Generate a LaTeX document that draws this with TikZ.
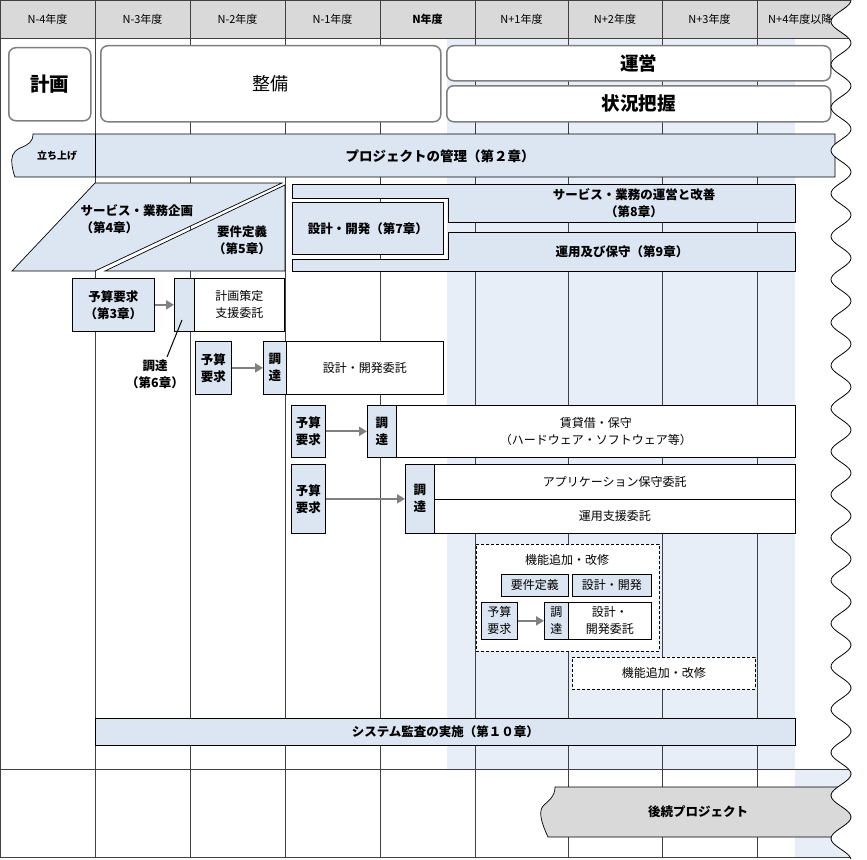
\documentclass[tikz,border=0pt]{standalone}
\usepackage{fontspec}
\setmainfont{Noto Sans CJK JP}
\usetikzlibrary{arrows.meta}
\definecolor{boxblue}{HTML}{DCE6F2}
\definecolor{bgblue}{HTML}{E8EEF7}
\definecolor{hdrgray}{HTML}{D9D9D9}
\definecolor{gridc}{HTML}{404040}
\definecolor{rgray}{HTML}{7F7F7F}
\definecolor{agray}{HTML}{808080}
\begin{document}
\begin{tikzpicture}[x=1pt,y=-1pt,
  gridline/.style={draw=gridc,line width=0.8pt},
  topbox/.style={draw=rgray,line width=1.5pt,rounded corners=7pt,fill=white,anchor=north west,inner sep=0pt},
  bbox/.style={draw=black,line width=0.7pt,fill=boxblue,anchor=north west,inner sep=0pt,align=center},
  wbox/.style={draw=black,line width=0.7pt,fill=white,anchor=north west,inner sep=0pt,align=center},
  dbox/.style={draw=black,line width=0.8pt,dash pattern=on 3pt off 2pt,fill=white,anchor=north west,inner sep=0pt},
  shp/.style={draw=black,line width=0.7pt,fill=boxblue},
  arr/.style={draw=agray,line width=2pt,-{Triangle[length=8pt,width=9pt]}},
  tr/.style={font=\fontsize{12}{17}\selectfont,align=center},
  tb/.style={font=\bfseries\fontsize{12.5}{17}\selectfont,align=center},
  hd/.style={font=\fontsize{11}{13}\selectfont},
]
\useasboundingbox (0,0) rectangle (867,859);
\fill[white] (0,0) rectangle (867,859);
% backgrounds
\fill[hdrgray] (0,0) rectangle (867,38);
\fill[bgblue] (447,38) rectangle (795,769);
\fill[bgblue] (795,769) rectangle (867,857);
% grid
\foreach \gx in {95,190,285,380,475,568,662,757}
  \draw[gridline] (\gx,0) -- (\gx,857);
\draw[gridline] (0,0.5) -- (867,0.5);
\draw[gridline] (0,38) -- (867,38);
\draw[gridline] (0,769) -- (867,769);
\draw[gridline] (0,857) -- (867,857);
\draw[gridline] (0.6,0) -- (0.6,857);
% header texts
\node[hd] (h1) at (47.5,19) {N-4年度};
\node[hd] (h2) at (142.5,19) {N-3年度};
\node[hd] (h3) at (237.5,19) {N-2年度};
\node[hd] (h4) at (332.5,19) {N-1年度};
\node[hd,font=\bfseries\fontsize{11}{13}\selectfont] (h5) at (427.5,19) {N年度};
\node[hd] (h6) at (521.5,19) {N+1年度};
\node[hd] (h7) at (615,19) {N+2年度};
\node[hd] (h8) at (709.5,19) {N+3年度};
\node[hd,anchor=west,inner sep=0pt] (h9) at (768,19) {N+4年度以降};
% top boxes
\node[topbox,minimum width=82,minimum height=73,font=\bfseries\fontsize{19.5}{22}\selectfont] (keikaku) at (8,47) {計画};
\node[topbox,minimum width=340,minimum height=76,font=\fontsize{18}{22}\selectfont] (seibi) at (100,45) {整備};
\node[topbox,minimum width=384,minimum height=35,font=\bfseries\fontsize{18.5}{22}\selectfont] (unei) at (446,45) {運営};
\node[topbox,minimum width=384,minimum height=36,font=\bfseries\fontsize{18.5}{22}\selectfont] (jokyo) at (446,85) {状況把握};
% project bar
\path[shp] (835,134) -- (33,134) .. controls (33,142) and (28,145) .. (20,148)
  .. controls (12,152) and (11,158) .. (12,165) .. controls (13,171) and (14,175) .. (15,177)
  -- (835,177) -- cycle;
\draw[line width=0.7pt] (95,134) -- (95,177);
\node[font=\bfseries\fontsize{10}{11}\selectfont] (tachiage) at (57,156) {立ち上げ};
\node[font=\bfseries\fontsize{13.5}{17}\selectfont] (pm) at (440,156) {プロジェクトの管理（第２章）};
% planning shapes
\path[shp] (95,183) -- (282,183) -- (95,271) -- (12,271) -- cycle;
\path[shp] (285,185) -- (285,271) -- (105,271) -- cycle;
\node[tb,align=left,anchor=west] (svc) at (77,219) {サービス・業務企画\\（第4章）};
\node[tb] (yoken) at (242,240) {要件定義\\（第5章）};
% operation shapes
\path[shp] (292,184) -- (795,184) -- (795,222) -- (448,222) -- (448,198) -- (292,198) -- cycle;
\path[shp] (448,232) -- (795,232) -- (795,271) -- (292,271) -- (292,259) -- (448,259) -- cycle;
\node[bbox,tb,minimum width=151,minimum height=52] (dev7) at (292,202) {設計・開発（第7章）};
\node[tb] (svc8) at (634,203) {サービス・業務の運営と改善\\（第8章）};
\node[tb] (ops9) at (622,252) {運用及び保守（第9章）};
% row 1
\node[bbox,tb,minimum width=82,minimum height=53] (yb1) at (72,278) {予算要求\\（第3章）};
\node[bbox,minimum width=20,minimum height=53] (cb1) at (174,278) {};
\node[wbox,tr,minimum width=90,minimum height=53] (kb1) at (194,278) {計画策定\\支援委託};
\draw[arr] (yb1.east) -- (cb1.west);
\node[tb] (lab6) at (155,374) {調達\\（第6章）};
\coordinate (c6a) at (182,320);
\coordinate (c6b) at (167,357);
\draw[line width=1pt] (c6a) -- (c6b);
% row 2
\node[bbox,tb,minimum width=36,minimum height=53] (yb2) at (195,341) {予算\\要求};
\node[bbox,tb,minimum width=23,minimum height=53] (cb2) at (263,341) {調\\達};
\node[wbox,tr,minimum width=157,minimum height=53] (kb2) at (286,341) {設計・開発委託};
\draw[arr] (yb2.east) -- (cb2.west);
% row 3
\node[bbox,tb,minimum width=34,minimum height=52] (yb3) at (291,405) {予算\\要求};
\node[bbox,tb,minimum width=29,minimum height=52] (cb3) at (367,405) {調\\達};
\node[wbox,tr,minimum width=399,minimum height=52] (kb3) at (396,405) {賃貸借・保守\\（ハードウェア・ソフトウェア等）};
\draw[arr] (yb3.east) -- (cb3.west);
% row 4
\node[bbox,tb,minimum width=34,minimum height=69] (yb4) at (291,464) {予算\\要求};
\node[bbox,tb,minimum width=29,minimum height=69] (cb4) at (405,464) {調\\達};
\node[wbox,tr,minimum width=361,minimum height=34.5] (kb4a) at (434,464) {アプリケーション保守委託};
\node[wbox,tr,minimum width=361,minimum height=34.5] (kb4b) at (434,498.5) {運用支援委託};
\draw[arr] (yb4.east) -- (cb4.west);
% dashed group 1
\node[dbox,minimum width=183,minimum height=107] (dsh1) at (476,544) {};
\node[tr] (kino1) at (567,560) {機能追加・改修};
\node[bbox,tr,minimum width=67,minimum height=22] (req5) at (501,574) {要件定義};
\node[bbox,tr,minimum width=79,minimum height=22] (dev5) at (572,574) {設計・開発};
\node[bbox,tr,minimum width=36,minimum height=37] (yb5) at (481,602) {予算\\要求};
\node[bbox,tr,minimum width=24,minimum height=37] (cb5) at (544,602) {調\\達};
\node[wbox,tr,minimum width=83,minimum height=37] (kb5) at (568,602) {設計・\\開発委託};
\draw[arr] (yb5.east) -- (cb5.west);
% dashed group 2
\node[dbox,tr,minimum width=183,minimum height=32] (dsh2) at (572,657) {機能追加・改修};
% audit
\node[bbox,tb,minimum width=700,minimum height=27] (audit) at (95,718) {システム監査の実施（第１０章）};
% follow-up project
\path[draw=black,line width=0.7pt,fill=hdrgray] (555,787) .. controls (555,797) and (548,801) .. (543,806)
  .. controls (539,811) and (540,820) .. (548,837) -- (867,837) -- (867,787) -- cycle;
\node[tb] (next) at (698,812) {後続プロジェクト};
% wavy cut on the right
\fill[white] plot[domain=0:859,samples=400,smooth,variable=\t] ({841+10*cos(\t*8.372093)},\t) -- (867,859) -- (867,0) -- cycle;
\draw[line width=0.8pt] plot[domain=0:859,samples=400,smooth,variable=\t] ({841+10*cos(\t*8.372093)},\t);
\end{tikzpicture}
\end{document}
